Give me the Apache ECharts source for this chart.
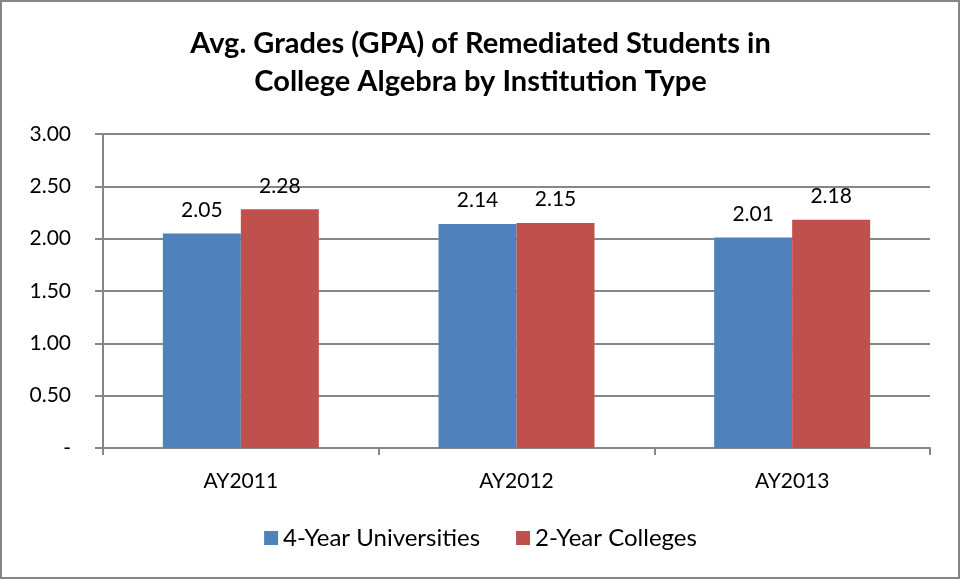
<!DOCTYPE html>
<html><head><meta charset="utf-8">
<script src="https://cdn.jsdelivr.net/npm/echarts@6/dist/echarts.min.js"></script>
<style>html,body{margin:0;padding:0;background:#fff}#c{width:961px;height:580px}</style>
</head><body><div id="c"></div>
<script>
const categories = ['AY2011','AY2012','AY2013'];
const univ = [2.05, 2.14, 2.01];
const colleges = [2.28, 2.15, 2.18];
const yTicks = ['-', '0.50', '1.00', '1.50', '2.00', '2.50', '3.00'];
const seriesNames = ['4-Year Universities', '2-Year Colleges'];

const chart = echarts.init(document.getElementById('c'));
const font = 'Lato, "Open Sans", sans-serif';
const lbl = {show:true, position:'top', distance:13, color:'#000', fontSize:21, fontFamily:font, formatter:p=>p.value.toFixed(2)};
chart.setOption({
  animation:false,
  graphic:[{type:'rect', shape:{x:1, y:1, width:958, height:577}, style:{fill:'none', stroke:'#868686', lineWidth:2}}],
  title:{text:'Avg. Grades (GPA) of Remediated Students in\nCollege Algebra by Institution Type', left:'center', top:20,
    textStyle:{fontFamily:font, fontSize:29, fontWeight:'bold', color:'#000', lineHeight:38}},
  legend:{bottom:25, left:'center', itemWidth:14, itemHeight:14, itemGap:36, icon:'rect',
    textStyle:{fontFamily:font, fontSize:24, color:'#000'}, data:seriesNames},
  grid:{left:103, right:31, top:134, bottom:132},
  xAxis:{type:'category', data:categories,
    axisLine:{lineStyle:{color:'#868686', width:2}},
    axisTick:{show:true, length:7, lineStyle:{color:'#868686', width:2}},
    axisLabel:{fontFamily:font, fontSize:21, color:'#000', margin:23}},
  yAxis:{type:'value', min:0, max:3, interval:0.5,
    axisLine:{show:true, lineStyle:{color:'#868686', width:2}},
    axisTick:{show:true, length:8, lineStyle:{color:'#868686', width:2}},
    splitLine:{lineStyle:{color:'#868686', width:2}},
    axisLabel:{fontFamily:font, fontSize:21, color:'#000', margin:32,
      formatter:(v)=>yTicks[Math.round(v/0.5)]}},
  series:[
    {name:seriesNames[0], type:'bar', data:univ, barWidth:78, barGap:'0%', itemStyle:{color:'#4F81BD'}, label:lbl},
    {name:seriesNames[1], type:'bar', data:colleges, barWidth:78, itemStyle:{color:'#C0504D'}, label:lbl}
  ]
});
</script></body></html>
